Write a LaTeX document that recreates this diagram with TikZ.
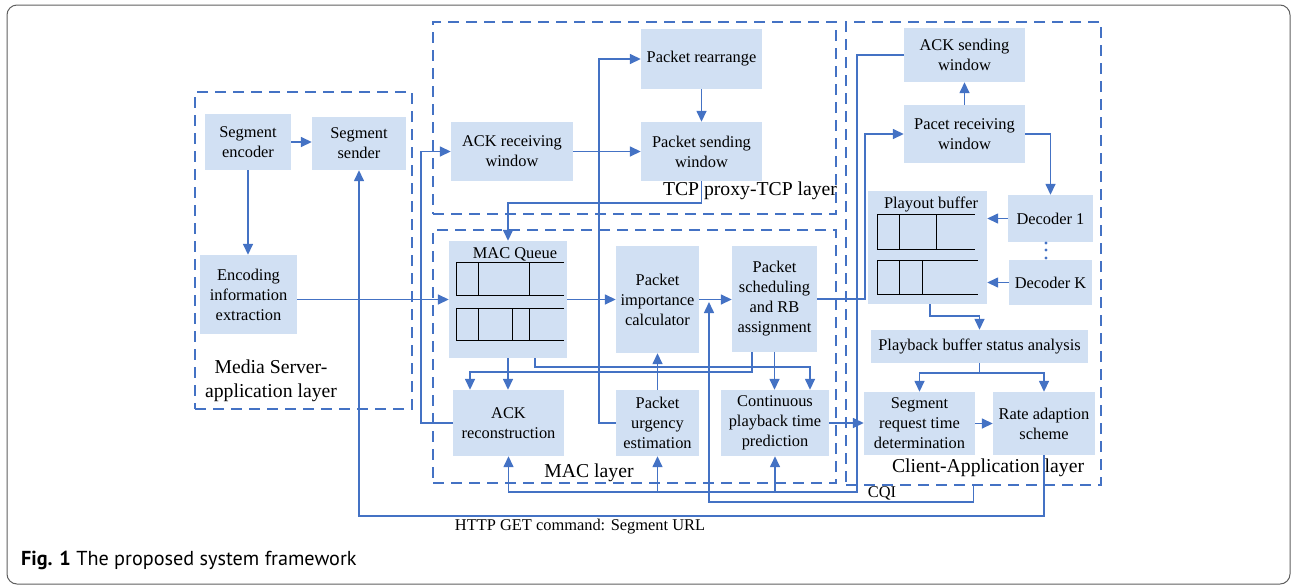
\documentclass[tikz,border=0pt]{standalone}
\usepackage{fontspec}
\setmainfont{Liberation Serif}
\newfontfamily\capfont{PT Sans}
\usetikzlibrary{arrows.meta}

\definecolor{boxfill}{RGB}{209,224,243}
\definecolor{linecol}{RGB}{68,114,196}
\definecolor{framegray}{RGB}{95,95,95}

\begin{document}
\begin{tikzpicture}[x=1pt, y=-1pt,
    blk/.style 2 args={fill=boxfill, minimum width=#1pt, minimum height=#2pt,
        inner sep=1pt, align=center, font=\fontsize{16.4}{20}\selectfont},
    layer/.style 2 args={draw=linecol, line width=1.4pt, dash pattern=on 11pt off 7pt,
        minimum width=#1pt, minimum height=#2pt, inner sep=0pt},
    lbl/.style={font=\fontsize{19.7}{24}\selectfont, align=center, inner sep=0pt},
    txt/.style={font=\fontsize{16.4}{20}\selectfont, inner sep=0pt},
    arr/.style={draw=linecol, line width=1.5pt, -{Triangle[length=11pt,width=10pt]}},
    queue/.style={draw=black, line width=1pt}]
    \useasboundingbox (0,0) rectangle (1292,587);
    \draw[framegray, line width=1pt, rounded corners=10pt] (7,5) rectangle (1290,584);

    % Layers
    \node[layer={217}{317}] (Layer-Media) at (303.5,250.5) {};
    \node[layer={403}{192}] (Layer-TCP) at (634.5,118) {};
    \node[layer={403}{253}] (Layer-MAC) at (634.5,356.5) {};
    \node[layer={255}{463}] (Layer-Client) at (973.5,253.5) {};
    \node[lbl] (Lbl-Media) at (271,381) {Media Server-\\application layer};
    \node[lbl] (Lbl-TCP) at (750,191) {TCP proxy-TCP layer};
    \node[lbl] (Lbl-MAC) at (589,473) {MAC layer};
    \node[lbl] (Lbl-Client) at (988,468) {Client-Application layer};

    % Media server
    \node[blk={86}{56}] (Seg-Enc) at (248,142) {Segment\\encoder};
    \node[blk={94}{53}] (Seg-Send) at (359,143.5) {Segment\\sender};
    \node[blk={97}{79}] (Enc-Info) at (248.5,294.5) {Encoding\\information\\extraction};

    % TCP proxy
    \node[blk={122}{59}] (ACK-Recv) at (512,151.5) {ACK receiving\\window};
    \node[blk={121}{60}] (Pkt-Rearr) at (701.5,59) {Packet rearrange};
    \node[blk={121}{59}] (Pkt-Send) at (701.5,151.5) {Packet sending\\window};

    % MAC
    \node[blk={118}{117}] (MAC-Queue) at (508,299.5) {};
    \node[txt] (Lbl-Queue) at (515,254) {MAC Queue};
    \foreach \yy in {262,295,308,340} {
        \draw[queue] (456,\yy) -- (564,\yy);
    }
    \draw[queue] (456,262) -- (456,295);
    \draw[queue] (456,308) -- (456,340);
    \foreach \xx in {478,529} {
        \draw[queue] (\xx,262) -- (\xx,295);
    }
    \foreach \xx in {478,512,529} {
        \draw[queue] (\xx,308) -- (\xx,340);
    }
    \node[blk={83}{107}] (Pkt-Imp) at (657.5,299.5) {Packet\\importance\\calculator};
    \node[blk={85}{106}] (Pkt-Sched) at (774.5,299) {Packet\\scheduling\\and RB\\assignment};
    \node[blk={111}{66}] (ACK-Rec) at (508.5,423) {ACK\\reconstruction};
    \node[blk={83}{66}] (Pkt-Urg) at (657.5,423) {Packet\\urgency\\estimation};
    \node[blk={108}{66}] (Play-Pred) at (775,423) {Continuous\\playback time\\prediction};

    % Client
    \node[blk={121}{54}] (ACK-Send) at (964.5,55) {ACK sending\\window};
    \node[blk={121}{58}] (Pkt-Recv) at (964.5,134) {Pacet receiving\\window};
    \node[blk={119}{113}] (Playout) at (927.5,247.5) {};
    \node[txt] (Lbl-Playout) at (931,204) {Playout buffer};
    \draw[queue] (877,214) -- (975,214) (877,249) -- (975,249) (877,214) -- (877,249);
    \draw[queue] (877,260) -- (978,260) (877,294) -- (978,294) (877,260) -- (877,294);
    \foreach \xx in {899,936} {
        \draw[queue] (\xx,214) -- (\xx,249);
    }
    \foreach \xx in {899,922} {
        \draw[queue] (\xx,260) -- (\xx,294);
    }
    \node[blk={85}{47}] (Decoder-1) at (1050.5,218.5) {Decoder 1};
    \node[blk={83}{45}] (Decoder-K) at (1050.5,282.5) {Decoder K};
    \foreach \yy in {243,250,258} {
        \fill[linecol] (1046,\yy) circle (1.6pt);
    }
    \node[blk={217}{33}] (Buf-Anal) at (979.5,346.5) {Playback buffer status analysis};
    \node[blk={111}{63}] (Seg-Req) at (919.5,423.5) {Segment\\request time\\determination};
    \node[blk={102}{63}] (Rate-Adapt) at (1044,423.5) {Rate adaption\\scheme};

    % Arrows
    \draw[arr] (Seg-Enc.east) -- (Seg-Enc.east -| Seg-Send.west);
    \draw[arr] (Seg-Enc.south) -- (Seg-Enc.south |- Enc-Info.north);
    \draw[arr] (Enc-Info.east |- MAC-Queue) -- (MAC-Queue.west);

    \draw[arr] (ACK-Rec.west) -- ++(-32,0) |- (ACK-Recv.west);
    \draw[arr] (ACK-Recv.east) -- (ACK-Recv.east -| Pkt-Send.west);
    \draw[arr] (Pkt-Rearr) -- (Pkt-Send);
    \draw[arr] (Pkt-Send.south) -- ++(0,22) -| (MAC-Queue.north);
    \draw[arr] (Pkt-Urg.west) -- ++(-17,0) |- (Pkt-Rearr.west);

    \draw[arr] (MAC-Queue) -- (Pkt-Imp);
    \draw[arr] (Pkt-Imp.east) -- (Pkt-Imp.east -| Pkt-Sched.west);
    \draw[arr] (Pkt-Urg) -- (Pkt-Imp);
    \draw[arr] (MAC-Queue) -- (MAC-Queue |- ACK-Rec.north);
    \draw[arr] ([xshift=-22.5pt]Pkt-Sched.south) -- ++(0,20) -| ([xshift=-38.5pt]ACK-Rec.north);
    \draw[arr] ([xshift=27pt]MAC-Queue.south) -- ++(0,9) -| ([xshift=35pt]Play-Pred.north);
    \draw[arr] (Pkt-Sched) -- (Pkt-Sched |- Play-Pred.north);
    \draw[arr] (Pkt-Sched.east) -- ++(48,0) |- (Pkt-Recv.west);
    \draw[arr] (Play-Pred.east) -- (Play-Pred.east -| Seg-Req.west);

    \draw[arr] (Pkt-Recv) -- (ACK-Send);
    \draw[arr] (Pkt-Recv.east) -- ++(25,0) -| (Decoder-1.north);
    \draw[arr] (Decoder-1.west) -- (Decoder-1.west -| Playout.east);
    \draw[arr] (Decoder-K.west) -- (Decoder-K.west -| Playout.east);
    \draw[arr] ([xshift=2.5pt]Playout.south) -- ++(0,12) -| (Buf-Anal.north);
    \draw[arr] (Buf-Anal.south) -- ++(0,10) -| (Seg-Req.north);
    \draw[arr] (Buf-Anal.south) -- ++(0,10) -| (Rate-Adapt.north);
    \draw[arr] (Seg-Req.east) -- (Seg-Req.east -| Rate-Adapt.west);

    % Feedback
    \coordinate (ACK-Bus) at (857,492);
    \draw[arr] (ACK-Send.west) -| (ACK-Bus) -| (ACK-Rec.south);
    \draw[arr] (Pkt-Urg.south |- ACK-Bus) -- (Pkt-Urg.south);
    \draw[arr] (Play-Pred.south |- ACK-Bus) -- (Play-Pred.south);
    \coordinate (CQI-Tip) at (709,302);
    \draw[arr] (Layer-Client.south) |- (CQI-Tip |- 0,502) -- (CQI-Tip);
    \node[txt] (CQI) at (882,493) {CQI};
    \draw[arr] (Rate-Adapt.south) -- ++(0,61) -| (Seg-Send.south);
    \node[txt] (HTTP) at (580,527) {HTTP GET command: Segment URL};

    % Caption
    \node[anchor=west, inner sep=0pt, font=\capfont\fontsize{20.2}{24}\selectfont] (Caption) at (21,560)
        {\textbf{Fig. 1} The proposed system framework};
\end{tikzpicture}
\end{document}
